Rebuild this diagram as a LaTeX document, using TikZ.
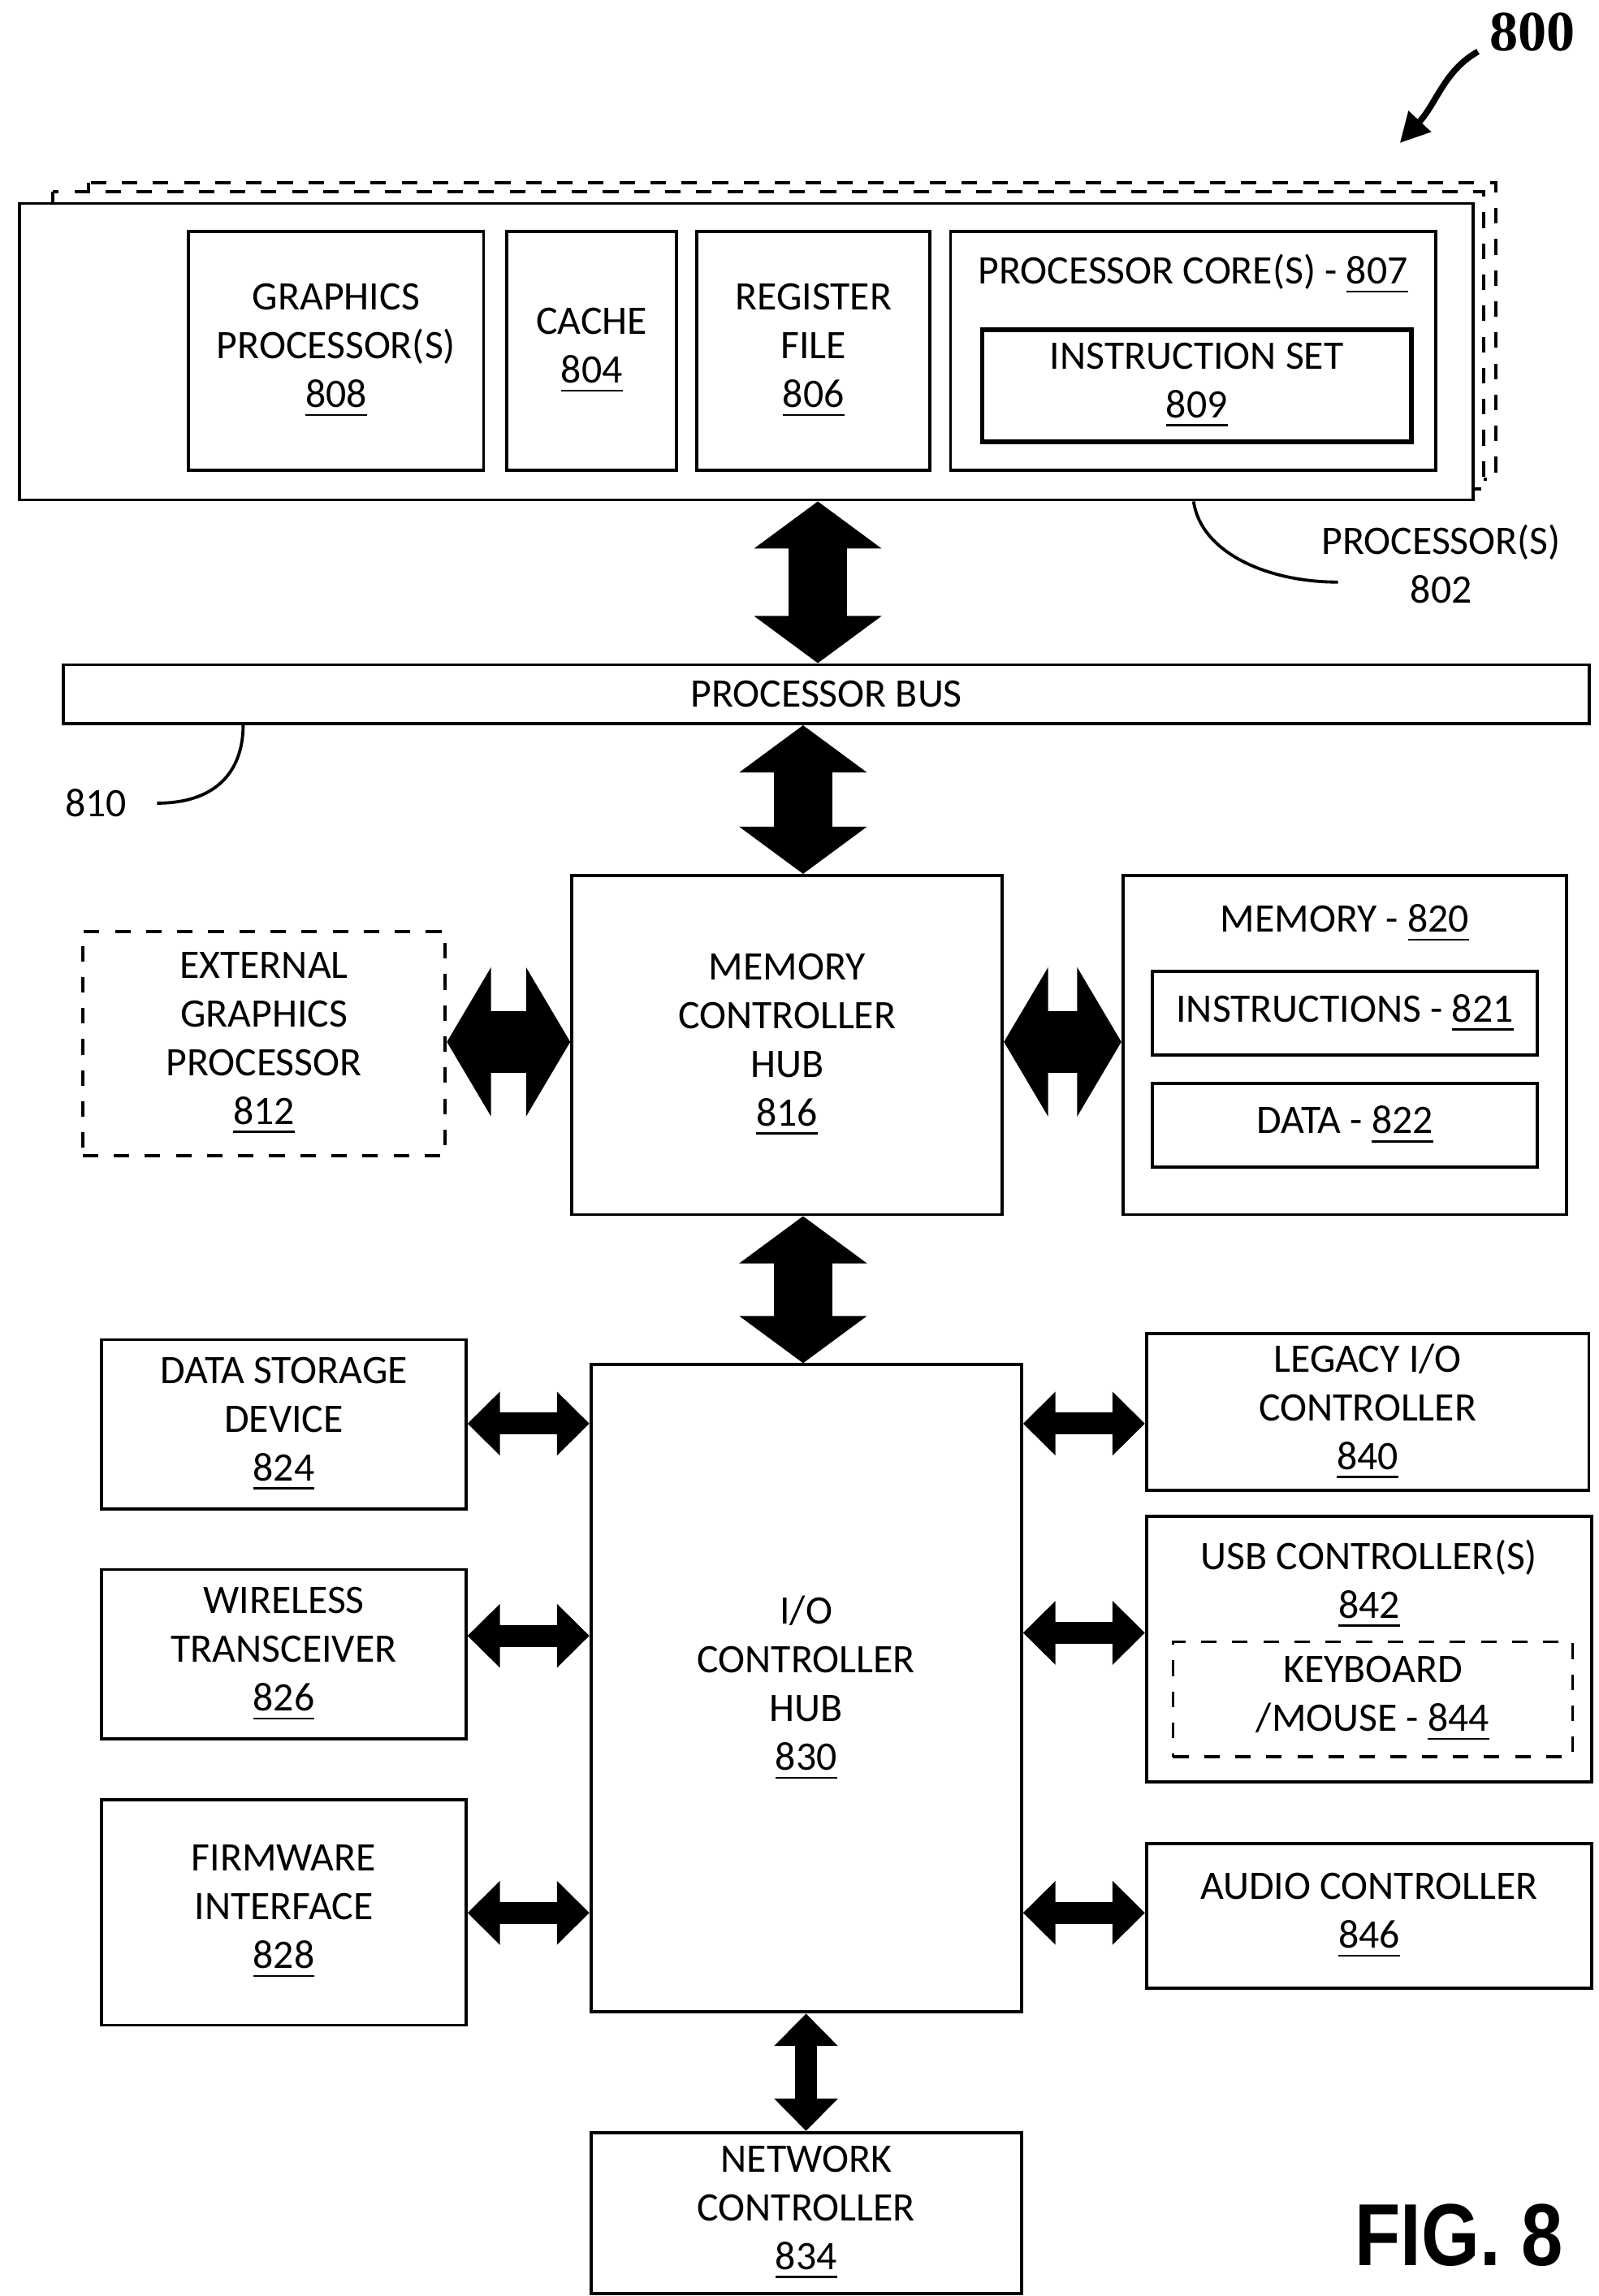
\documentclass[tikz,border=0pt]{standalone}
\usepackage{fontspec}
\setmainfont{Carlito}
\newfontfamily\serifbf{Liberation Serif}
\newfontfamily\figfont{Liberation Sans}
\usetikzlibrary{arrows.meta,positioning}

\begin{document}
\begin{tikzpicture}[x=0.01cm,y=-0.01cm,
    box/.style={draw, line width=0.6pt, anchor=north west, align=center,
      font=\fontsize{7.8}{9.4}\selectfont, inner sep=0pt},
    dbox/.style={box, dashed},
    txt/.style={align=center, font=\fontsize{7.8}{9.4}\selectfont, inner sep=0pt},
    bigarrow/.style={line width=0.4cm, {Triangle[length=0.32cm,width=0.85cm]}-{Triangle[length=0.32cm,width=0.85cm]}},
    midarrow/.style={line width=0.42cm, {Triangle[length=0.3cm,width=1cm]}-{Triangle[length=0.3cm,width=1cm]}},
    smallarrow/.style={line width=0.15cm, {Triangle[length=0.22cm,width=0.42cm]}-{Triangle[length=0.22cm,width=0.42cm]}}]
   \useasboundingbox (0,0) rectangle (1085,1558);

   % processor(s)
   \draw[dashed, line width=0.6pt] (60,124) rectangle (1015,325);
   \draw[dashed, line width=0.6pt, fill=white] (36,130) rectangle (1007,332);
   \node[box, fill=white, minimum width=9.86cm, minimum height=2.01cm] (cpu) at (12,137) {};
   \node[box, minimum width=2cm, minimum height=1.62cm] (gfx) at (127,156) {GRAPHICS\\PROCESSOR(S)\\\underline{808}};
   \node[box, minimum width=1.15cm, minimum height=1.62cm] (cache) at (343,156) {CACHE\\\underline{804}};
   \node[box, minimum width=1.58cm, minimum height=1.62cm] (reg) at (472,156) {REGISTER\\FILE\\\underline{806}};
   \node[box, minimum width=3.29cm, minimum height=1.62cm] (core) at (644,156) {};
   \node[txt, below=0.16cm of core.north] {PROCESSOR CORE(S) - \underline{807}};
   \node[box, line width=0.9pt, minimum width=2.91cm, minimum height=0.76cm] (iset) at (665,222) {INSTRUCTION SET\\\underline{809}};
   \node[txt] (l802) at (978,383) {PROCESSOR(S)\\802};
   \draw[line width=0.6pt] (cpu.south -| 810,0) .. controls (815,375) and (860,395) .. (908,395);

   \node[font=\serifbf\bfseries\fontsize{11}{12}\selectfont] (l800) at (1040,22) {800};
   \draw[line width=1.2pt, -{Triangle[length=0.2cm,width=0.2cm]}] (1003,35) .. controls (980,48) and (975,70) .. (950,97);

   % processor bus
   \node[box, minimum width=10.35cm, minimum height=0.4cm] (bus) at (42,450) {PROCESSOR BUS};
   \node[txt] (l810) at (65,545) {810};
   \draw[line width=0.6pt] (l810.east) ++(0.2cm,0) .. controls (150,545) and (165,520) .. (bus.south -| 165,0);

   % memory controller hub
   \node[box, minimum width=2.92cm, minimum height=2.3cm] (mch) at (387,593) {MEMORY\\CONTROLLER\\HUB\\\underline{816}};
   \node[dbox, minimum width=2.46cm, minimum height=1.52cm] (ext) at (55,631) {EXTERNAL\\GRAPHICS\\PROCESSOR\\\underline{812}};
   \node[box, minimum width=3.01cm, minimum height=2.3cm] (mem) at (761,593) {};
   \node[txt, below=0.2cm of mem.north] {MEMORY - \underline{820}};
   \node[box, minimum width=2.61cm, minimum height=0.57cm] (instr) at (781,658) {INSTRUCTIONS - \underline{821}};
   \node[box, minimum width=2.61cm, minimum height=0.57cm] (data) at (781,734) {DATA - \underline{822}};

   % i/o controller hub
   \node[box, minimum width=2.92cm, minimum height=4.39cm] (ich) at (400,925) {I/O\\CONTROLLER\\HUB\\\underline{830}};
   \node[box, minimum width=2.47cm, minimum height=1.15cm] (dsd) at (68,908) {DATA STORAGE\\DEVICE\\\underline{824}};
   \node[box, minimum width=2.47cm, minimum height=1.15cm] (wls) at (68,1064) {WIRELESS\\TRANSCEIVER\\\underline{826}};
   \node[box, minimum width=2.47cm, minimum height=1.53cm] (fw) at (68,1220) {FIRMWARE\\INTERFACE\\\underline{828}};
   \node[box, minimum width=3cm, minimum height=1.06cm] (leg) at (777,904) {LEGACY I/O\\CONTROLLER\\\underline{840}};
   \node[box, minimum width=3.02cm, minimum height=1.8cm] (usb) at (777,1028) {};
   \node[txt, below=0.16cm of usb.north] {USB CONTROLLER(S)\\\underline{842}};
   \node[dbox, minimum width=2.71cm, minimum height=0.78cm] (kbd) at (795,1113) {KEYBOARD\\/MOUSE - \underline{844}};
   \node[box, minimum width=3.02cm, minimum height=0.98cm] (aud) at (777,1250) {AUDIO CONTROLLER\\\underline{846}};
   \node[box, minimum width=2.92cm, minimum height=1.09cm] (net) at (400,1446) {NETWORK\\CONTROLLER\\\underline{834}};

   \node[font=\figfont\bfseries\fontsize{17}{18}\selectfont, xscale=0.85] (fig) at (990,1517) {FIG. 8};

   % connectors
   \draw[bigarrow] (cpu.south -| 555,0) -- (bus.north -| 555,0);
   \draw[bigarrow] (bus.south -| 545,0) -- (mch.north -| 545,0);
   \draw[bigarrow] (mch.south -| 545,0) -- (ich.north -| 545,0);
   \draw[midarrow] (ext.east |- 0,707) -- (mch.west |- 0,707);
   \draw[midarrow] (mch.east |- 0,707) -- (mem.west |- 0,707);
   \draw[smallarrow] (dsd.east |- 0,966) -- (ich.west |- 0,966);
   \draw[smallarrow] (wls.east |- 0,1110) -- (ich.west |- 0,1110);
   \draw[smallarrow] (fw.east |- 0,1298) -- (ich.west |- 0,1298);
   \draw[smallarrow] (ich.east |- 0,966) -- (leg.west |- 0,966);
   \draw[smallarrow] (ich.east |- 0,1108) -- (usb.west |- 0,1108);
   \draw[smallarrow] (ich.east |- 0,1298) -- (aud.west |- 0,1298);
   \draw[smallarrow] (ich.south -| 547,0) -- (net.north -| 547,0);
\end{tikzpicture}
\end{document}
